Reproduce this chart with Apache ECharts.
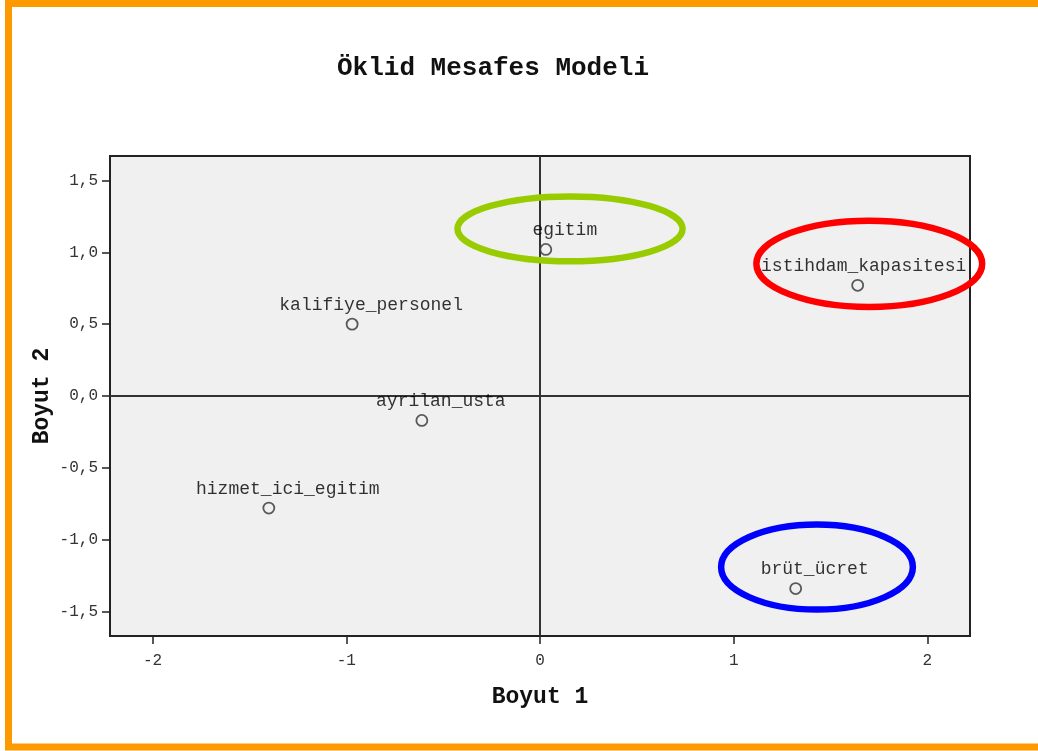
<!DOCTYPE html>
<html>
<head>
<meta charset="utf-8">
<script src="https://cdn.jsdelivr.net/npm/echarts@6/dist/echarts.min.js"></script>
<style>
  html, body { margin: 0; padding: 0; background: #ffffff; }
  #chart { width: 1038px; height: 751px; }
</style>
</head>
<body>
<div id="chart"></div>
<script>
// ---- data ----
const names = ['egitim', 'istihdam_kapasitesi', 'kalifiye_personel', 'ayrilan_usta', 'hizmet_ici_egitim', 'brüt_ücret'];
const boyut1 = [0.03, 1.64, -0.97, -0.61, -1.40, 1.32];
const boyut2 = [1.02, 0.77, 0.50, -0.17, -0.78, -1.34];
const xTicks = [-2, -1, 0, 1, 2];
const yTicks = [-1.5, -1.0, -0.5, 0.0, 0.5, 1.0, 1.5];
// highlight ellipses (data units): centre x, centre y, radius x, radius y
const ellipseCx = [0.155, 1.70, 1.43];
const ellipseCy = [1.163, 0.92, -1.19];
const ellipseRx = [0.581, 0.583, 0.495];
const ellipseRy = [0.226, 0.30, 0.296];
const ellipseColors = ['#99CC00', '#FF0000', '#0000FF'];

// ---- styling ----
const MONO = '"Liberation Mono", "DejaVu Sans Mono", monospace';
const labelNudge = { 'istihdam_kapasitesi': [6, -19] };

const points = names.map((n, i) => ({
  name: n,
  value: [boyut1[i], boyut2[i]],
  label: { offset: labelNudge[n] || [19, -19] }
}));
const ellipses = ellipseCx.map((cx, i) => [cx, ellipseCy[i], ellipseRx[i], ellipseRy[i], i]);

const chart = echarts.init(document.getElementById('chart'), null, { renderer: 'canvas' });
chart.setOption({
  backgroundColor: '#ffffff',
  animation: false,
  title: {
    text: 'Öklid Mesafes Modeli',
    left: 488,
    textAlign: 'center',
    top: 50,
    textStyle: { fontFamily: MONO, fontSize: 26, fontWeight: 'bold', color: '#111' }
  },
  graphic: [{
    type: 'rect',
    shape: { x: 8.5, y: 3.5, width: 1100, height: 743.5 },
    style: { fill: 'none', stroke: '#FF9900', lineWidth: 7 },
    silent: true,
    z: 100
  }, {
    type: 'text',
    x: 42, y: 396,
    rotation: Math.PI / 2,
    style: {
      text: 'Boyut 2',
      fontFamily: MONO, fontSize: 23, fontWeight: 'bold', fill: '#111',
      align: 'center', verticalAlign: 'middle'
    },
    silent: true
  }],
  grid: {
    left: 110, right: 68, top: 156, bottom: 115,
    show: true,
    backgroundColor: '#F0F0F0',
    borderColor: '#222',
    borderWidth: 2
  },
  xAxis: {
    type: 'value',
    min: -2.22, max: 2.22,
    name: 'Boyut 1',
    nameLocation: 'middle',
    nameGap: 50,
    nameTextStyle: { fontFamily: MONO, fontSize: 23, fontWeight: 'bold', color: '#111' },
    axisLine: { show: false, onZero: false },
    axisTick: { show: true, length: 8, lineStyle: { color: '#222', width: 1.5 }, customValues: xTicks },
    axisLabel: {
      customValues: xTicks,
      fontFamily: MONO, fontSize: 16, color: '#333', margin: 17,
      formatter: v => String(v).replace('.', ',')
    },
    splitLine: { show: false }
  },
  yAxis: {
    type: 'value',
    min: -1.67, max: 1.67,
    axisLine: { show: false, onZero: false },
    axisTick: { show: true, length: 8, lineStyle: { color: '#222', width: 1.5 }, customValues: yTicks },
    axisLabel: {
      customValues: yTicks,
      fontFamily: MONO, fontSize: 16, color: '#333', margin: 12,
      formatter: v => v.toFixed(1).replace('.', ',')
    },
    splitLine: { show: false }
  },
  series: [
    {
      type: 'scatter',
      data: points,
      symbol: 'circle',
      symbolSize: 11,
      itemStyle: { color: '#F0F0F0', borderColor: '#333', borderWidth: 1.8 },
      label: {
        show: true,
        position: 'inside',
        formatter: p => p.name,
        fontFamily: MONO, fontSize: 18, color: '#000'
      },
      markLine: {
        silent: true,
        symbol: 'none',
        label: { show: false },
        lineStyle: { color: '#333', width: 2, type: 'solid' },
        data: [{ xAxis: 0 }, { yAxis: 0 }],
        z: 1
      },
      z: 3
    },
    {
      type: 'custom',
      clip: false,
      silent: true,
      data: ellipses,
      z: 5,
      renderItem: (params, api) => {
        const c = api.coord([api.value(0), api.value(1)]);
        const s = api.size([api.value(2), api.value(3)]);
        return {
          type: 'ellipse',
          shape: { cx: c[0], cy: c[1], rx: s[0], ry: s[1] },
          style: { fill: 'none', stroke: ellipseColors[api.value(4)], lineWidth: 6.5 }
        };
      }
    }
  ]
});
</script>
</body>
</html>
